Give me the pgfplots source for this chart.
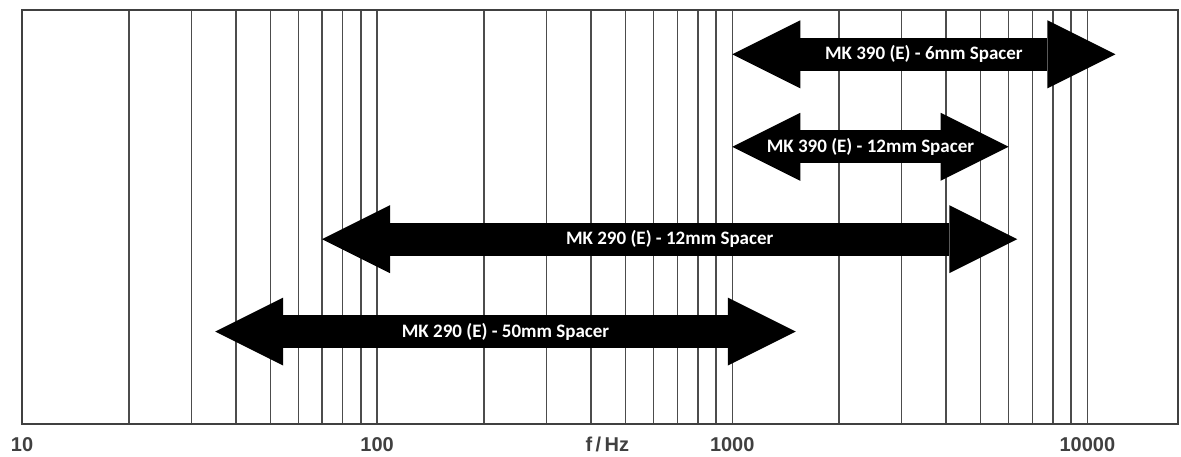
\documentclass[border=0pt]{standalone}
\usepackage{pgfplots}
\pgfplotsset{compat=1.18}
\usepackage{fontspec}
\setmainfont{Liberation Sans}
\newfontfamily\calib{Carlito}
\usetikzlibrary{arrows.meta}

\begin{document}
\begin{tikzpicture}
\begin{axis}[
    name=ax,
    scale only axis,
    width=578pt,
    height=207pt,
    xmode=log,
    xmin=10, xmax=18000,
    ymin=0, ymax=4.48,
    ytick=\empty,
    xtick={10,100,1000,10000},
    xticklabels={10,100,1000,10000},
    minor xtick={20,30,40,50,60,70,80,90,200,300,400,500,600,700,800,900,2000,3000,4000,5000,6000,7000,8000,9000},
    extra x ticks={445},
    extra x tick labels={f\,/\,Hz},
    extra x tick style={grid=none},
    xmajorgrids, xminorgrids,
    major grid style={draw=black!70, line width=0.7pt},
    minor grid style={draw=black!70, line width=0.7pt},
    major tick length=0pt, minor tick length=0pt,
    axis line style={draw=black!75, line width=1pt},
    xticklabel style={font=\bfseries\fontsize{10}{12}\selectfont, text=black!75, yshift=-3pt},
    log ticks with fixed point,
    /pgf/number format/assume math mode=true,
    clip=false,
]
% frequency ranges of the spacers
\addplot[line width=16.5pt, black,
  {Triangle[length=34pt, width=34pt, line width=0pt]}-{Triangle[length=34pt, width=34pt, line width=0pt]}]
  coordinates {(1000,4) (12000,4)}
  node[pos=0.5, text=white, font=\calib\bfseries\fontsize{9.5}{11}\selectfont] {MK 390 (E) - 6mm Spacer};
\addplot[line width=16.5pt, black,
  {Triangle[length=34pt, width=34pt, line width=0pt]}-{Triangle[length=34pt, width=34pt, line width=0pt]}]
  coordinates {(1000,3) (6000,3)}
  node[pos=0.5, text=white, font=\calib\bfseries\fontsize{9.5}{11}\selectfont] {MK 390 (E) - 12mm Spacer};
\addplot[line width=16.5pt, black,
  {Triangle[length=34pt, width=34pt, line width=0pt]}-{Triangle[length=34pt, width=34pt, line width=0pt]}]
  coordinates {(70,2) (6350,2)}
  node[pos=0.5, text=white, font=\calib\bfseries\fontsize{9.5}{11}\selectfont] {MK 290 (E) - 12mm Spacer};
\addplot[line width=16.5pt, black,
  {Triangle[length=34pt, width=34pt, line width=0pt]}-{Triangle[length=34pt, width=34pt, line width=0pt]}]
  coordinates {(35,1) (1510,1)}
  node[pos=0.5, text=white, font=\calib\bfseries\fontsize{9.5}{11}\selectfont] {MK 290 (E) - 50mm Spacer};
\coordinate (O) at (rel axis cs:0,0);
\end{axis}
\pgfresetboundingbox
\path ([shift={(-11pt,-16pt)}]O) rectangle ++(590.5pt,228pt);
\end{tikzpicture}
\end{document}
